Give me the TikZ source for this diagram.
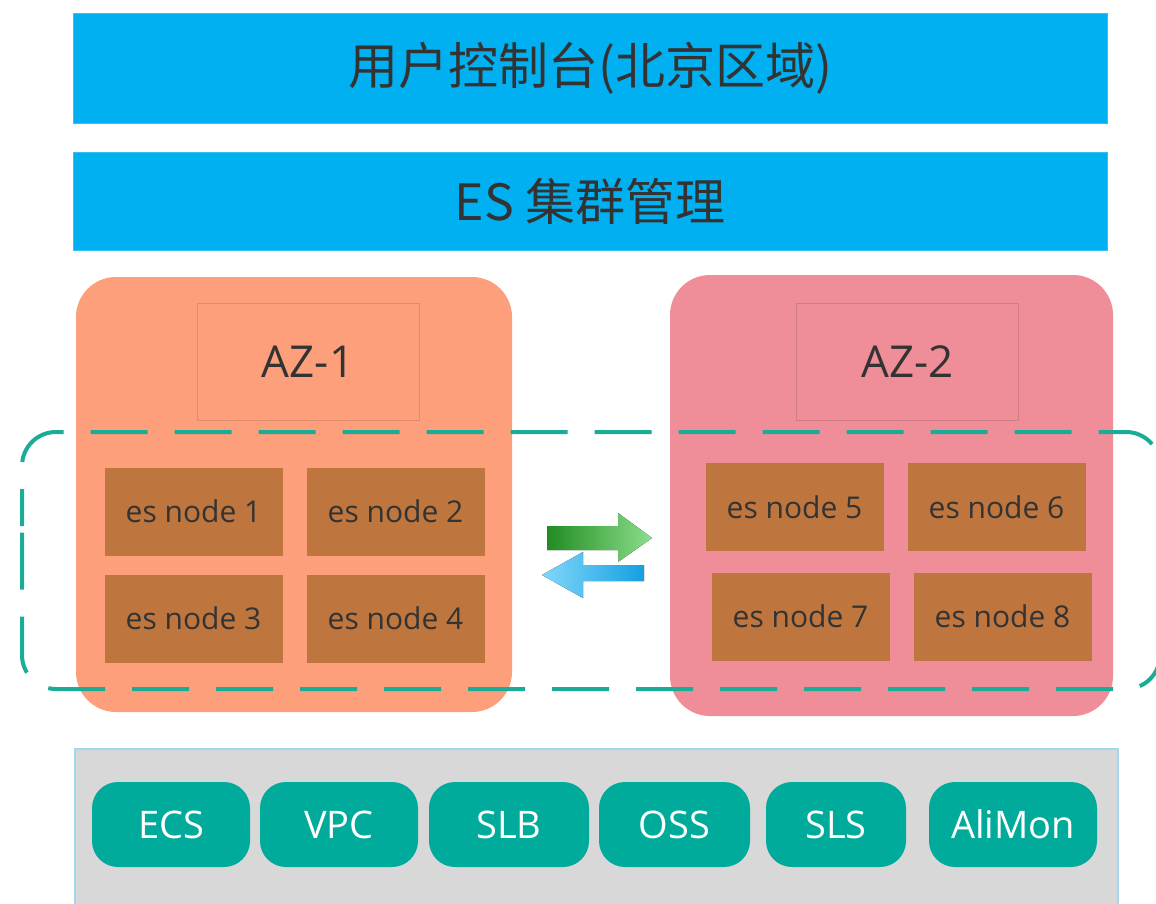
\documentclass[tikz,border=0pt]{standalone}
\usepackage{fontspec}
\setmainfont{Open Sans}
\newfontfamily\cjk{Noto Sans CJK SC}
\usepackage{tikz}
\usetikzlibrary{positioning}

\definecolor{barblue}{RGB}{0,176,240}
\definecolor{azone}{RGB}{253,159,122}
\definecolor{aztwo}{RGB}{239,142,152}
\definecolor{esbrown}{RGB}{191,118,62}
\definecolor{dashteal}{RGB}{26,172,150}
\definecolor{pillteal}{RGB}{0,171,155}
\definecolor{basegray}{RGB}{216,216,216}
\definecolor{baseedge}{RGB}{160,216,242}
\definecolor{txtgray}{RGB}{51,51,51}
\definecolor{grndark}{RGB}{34,140,34}
\definecolor{grnlight}{RGB}{140,222,140}
\definecolor{bludark}{RGB}{20,160,225}
\definecolor{blulight}{RGB}{130,215,250}

\begin{document}
\begin{tikzpicture}[x=1pt, y=-1pt, node distance=107pt and 202pt, on grid,
	bar/.style={fill=barblue, draw=barblue!80!white, line width=0.8pt, minimum width=1034pt, inner sep=0pt, text=txtgray, font=\cjk\fontsize{50}{50}\selectfont},
	zone/.style={rounded corners=40pt},
	zonelabel/.style={draw=#1!88!black, fill=#1, line width=0.8pt, minimum width=222pt, minimum height=117pt, inner sep=0pt, text=txtgray, font=\fontsize{44}{44}\selectfont},
	esnode/.style={fill=esbrown, minimum width=178pt, minimum height=88pt, inner sep=0pt, text=txtgray, font=\fontsize{30}{30}\selectfont},
	svc/.style={fill=pillteal, rounded corners=26pt, minimum height=85pt, inner sep=0pt, text=white, font=\fontsize{38}{38}\selectfont}]
	\clip (0,0) rectangle (1156,904);
	\useasboundingbox (0,0) rectangle (1156,904);
	
	% top layers
	\node[bar, minimum height=110pt] (console) at (590,68) {用户控制台(北京区域)};
	\node[bar, minimum height=98pt] (esmgmt) at (590,201) {ES 集群管理};
	
	% availability zones
	\fill[zone, azone] (76,277) rectangle (512,712);
	\fill[zone, aztwo] (670,275) rectangle (1113,716);
	\node[zonelabel=azone] (az1) at (308,361.5) {AZ-1};
	\node[zonelabel=aztwo] (az2) at (907.5,361.5) {AZ-2};
	
	% cluster spanning both zones
	\draw[dashteal, line width=4pt, rounded corners=34pt, dash pattern=on 57pt off 27pt, dash phase=20pt] (22,560) -- (22,432) -- (1160,432) -- (1160,689) -- (22,689) -- cycle;
	
	\node[esnode] (es1) at (193.5,511.5) {es node 1};
	\node[esnode, right=of es1] (es2) {es node 2};
	\node[esnode, below=of es1] (es3) {es node 3};
	\node[esnode, right=of es3] (es4) {es node 4};
	\node[esnode] (es5) at (794.5,507) {es node 5};
	\node[esnode, right=of es5] (es6) {es node 6};
	\node[esnode, below=of es5, xshift=6pt, yshift=-2.5pt] (es7) {es node 7};
	\node[esnode, right=of es7] (es8) {es node 8};
	
	% replication arrows
	\fill[left color=grndark, right color=grnlight] (547,526) -- (618,526) -- (618,513) -- (652,538) -- (618,562) -- (618,550) -- (547,550) -- cycle;
	\fill[left color=blulight, right color=bludark] (644,565) -- (583,565) -- (583,552) -- (542,575) -- (583,598) -- (583,581) -- (644,581) -- cycle;
	
	% cloud services
	\draw[fill=basegray, draw=baseedge, line width=1.5pt] (75,749) rectangle (1118,912);
	\node[svc, minimum width=158pt] (ecs) at (171,824.5) {ECS};
	\node[svc, minimum width=158pt] (vpc) at (339,824.5) {VPC};
	\node[svc, minimum width=160pt] (slb) at (509,824.5) {SLB};
	\node[svc, minimum width=151pt] (oss) at (674.5,824.5) {OSS};
	\node[svc, minimum width=140pt] (sls) at (836,824.5) {SLS};
	\node[svc, minimum width=168pt] (alimon) at (1013,824.5) {AliMon};
\end{tikzpicture}
\end{document}
